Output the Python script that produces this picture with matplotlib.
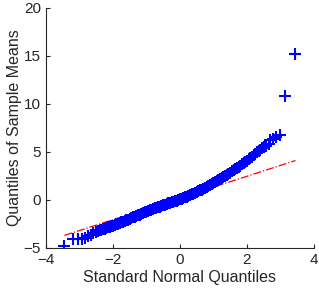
import numpy as np
import matplotlib
matplotlib.use('Agg')
import matplotlib.pyplot as plt

plt.rcParams['font.family'] = ['Liberation Sans', 'DejaVu Sans']

# lower tail
low_x = [-3.45, -3.19, -3.04, -2.93, -2.84, -2.74, -2.66, -2.59]
low_y = [-4.85, -4.05, -4.05, -4.05, -3.95, -3.80, -3.62, -3.45]

# dense middle part (theoretical quantile, sample quantile)
mid_x = [-2.50, -2.45, -2.40, -2.35, -2.30, -2.25, -2.20, -2.15, -2.10, -2.05,
         -2.00, -1.95, -1.90, -1.85, -1.80, -1.75, -1.70, -1.65, -1.60, -1.55,
         -1.50, -1.45, -1.40, -1.35, -1.30, -1.25, -1.20, -1.15, -1.10, -1.05,
         -1.00, -0.95, -0.90, -0.85, -0.80, -0.75, -0.70, -0.65, -0.60, -0.55,
         -0.50, -0.45, -0.40, -0.35, -0.30, -0.25, -0.20, -0.15, -0.10, -0.05,
         0.00, 0.05, 0.10, 0.15, 0.20, 0.25, 0.30, 0.35, 0.40, 0.45,
         0.50, 0.55, 0.60, 0.65, 0.70, 0.75, 0.80, 0.85, 0.90, 0.95,
         1.00, 1.05, 1.10, 1.15, 1.20, 1.25, 1.30, 1.35, 1.40, 1.45,
         1.50, 1.55, 1.60, 1.65, 1.70, 1.75, 1.80, 1.85, 1.90, 1.95,
         2.00, 2.05, 2.10, 2.15, 2.20, 2.25, 2.30, 2.35, 2.40, 2.45, 2.50]
mid_y = [-3.30, -3.24, -3.18, -3.12, -3.06, -3.00, -2.93, -2.87, -2.81, -2.74,
         -2.68, -2.61, -2.54, -2.47, -2.40, -2.33, -2.26, -2.19, -2.12, -2.05,
         -1.98, -1.90, -1.83, -1.75, -1.68, -1.60, -1.53, -1.45, -1.38, -1.30,
         -1.23, -1.16, -1.09, -1.02, -0.96, -0.89, -0.82, -0.75, -0.69, -0.62,
         -0.55, -0.49, -0.43, -0.37, -0.31, -0.25, -0.19, -0.13, -0.07, -0.01,
         0.05, 0.12, 0.20, 0.27, 0.35, 0.42, 0.50, 0.57, 0.65, 0.72,
         0.80, 0.89, 0.98, 1.08, 1.17, 1.27, 1.36, 1.46, 1.55, 1.65,
         1.75, 1.86, 1.97, 2.08, 2.19, 2.30, 2.41, 2.52, 2.63, 2.74,
         2.85, 2.97, 3.09, 3.21, 3.33, 3.45, 3.58, 3.71, 3.84, 3.97,
         4.10, 4.24, 4.38, 4.52, 4.66, 4.80, 4.94, 5.08, 5.22, 5.36, 5.50]

# upper tail
high_x = [2.58, 2.65, 2.70, 2.78, 2.86, 3.00, 3.14, 3.45]
high_y = [5.60, 5.85, 6.20, 6.30, 6.50, 6.80, 10.80, 15.20]

# reference line (through the quartiles, drawn over the data range)
line_x = [-3.45, 3.45]
line_y = [-3.70, 4.10]

qx = np.array(low_x + mid_x + high_x)
qy = np.array(low_y + mid_y + high_y)

fig = plt.figure(figsize=(3.19, 2.92), dpi=100)
ax = fig.add_axes([0.144, 0.151, 0.840, 0.822])

ax.plot(line_x, line_y, '-.', color='red', linewidth=0.9, zorder=1)
ax.plot(qx, qy, '+', color='blue', markersize=9, markeredgewidth=1.5, zorder=2)

ax.set_xlim(-4, 4)
ax.set_ylim(-5, 20)
ax.set_xticks([-4, -2, 0, 2, 4])
ax.set_yticks([-5, 0, 5, 10, 15, 20])

dark = '#262626'
for side in ['top', 'right']:
    ax.spines[side].set_visible(False)
for side in ['left', 'bottom']:
    ax.spines[side].set_color(dark)
    ax.spines[side].set_linewidth(0.8)
ax.tick_params(direction='in', length=3, width=0.8, colors=dark, labelsize=11)

ax.set_xlabel('Standard Normal Quantiles', fontsize=11.5, color=dark, labelpad=2)
ax.set_ylabel('Quantiles of Sample Means', fontsize=11.5, color=dark, labelpad=1)

fig.savefig('out.png', dpi=100)
